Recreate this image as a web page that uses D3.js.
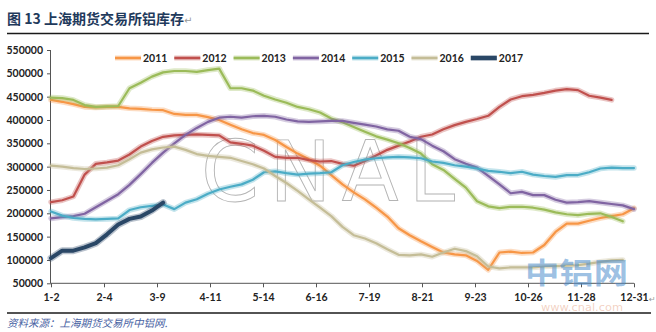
<!DOCTYPE html>
<html>
<head>
<meta charset="utf-8">
<script src="https://cdn.jsdelivr.net/npm/d3@7"></script>
<style>
  html, body { margin: 0; padding: 0; background: #fff; }
  svg { display: block; }
  .tick text { font-family: Lato, "Open Sans", sans-serif; font-weight: 700; font-size: 10.5px; fill: #222; }
  .tick line, .domain { stroke: #555; }
</style>
</head>
<body>
<svg id="chart" width="656" height="332"></svg>
<script>
// SHFE aluminium warehouse stocks (tonnes), weekly readings, one array per year
const years = ["2011", "2012", "2013", "2014", "2015", "2016", "2017"];
const dateLabels = ["1-2", "2-4", "3-9", "4-11", "5-14", "6-16", "7-19", "8-21", "9-23", "10-26", "11-28", "12-31"];
const yTicks = [50000, 100000, 150000, 200000, 250000, 300000, 350000, 400000, 450000, 500000, 550000];

const y2011 = [443,439,434,428,427,428,428,425,424,422,421,413,411,411,406,400,390,380,372,368,357,342,328,316,302,282,262,245,230,212,193,168,153,140,128,116,112,110,98,79,116,118,115,116,132,160,178,178,184,190,194,198,211];
const y2012 = [224,228,236,283,306,309,313,326,343,355,364,367,368,369,368,367,352,349,345,334,321,319,319,314,311,312,306,302,312,324,336,345,354,364,369,380,389,396,402,409,428,444,451,454,458,463,466,464,452,448,443];
const y2013 = [448,447,443,432,428,429,430,468,480,493,502,505,505,503,507,510,468,468,463,452,444,437,428,423,416,403,395,385,375,365,358,350,340,328,305,293,274,255,226,215,211,214,214,212,208,202,198,196,199,200,192,183];
const y2014 = [189,192,194,199,213,227,241,261,284,308,330,350,368,383,396,405,407,405,408,409,407,401,397,396,397,398,398,394,390,386,380,377,364,359,345,333,316,306,298,280,262,243,246,239,239,229,223,224,226,223,220,217,209];
const y2015 = [204,195,190,188,187,188,189,207,213,216,219,209,223,230,242,251,257,262,272,288,290,286,283,285,286,288,303,310,315,318,320,321,320,318,311,308,303,300,296,291,289,286,289,283,280,278,282,282,288,296,298,297,297];
const y2016 = [302,300,297,295,296,298,303,316,330,337,341,343,336,327,323,321,319,312,305,296,280,265,248,230,212,194,171,153,146,136,123,111,110,112,107,116,124,119,108,86,82,84,84,84,86,87,88,89,92,96,99,100];
const y2017 = [104,120,120,127,136,155,176,188,193,206,223];

const colors = ["#f79646", "#c0504d", "#9bbb59", "#8064a2", "#4bacc6", "#c4bd97", "#2a4766"];
const seriesValues = [y2011, y2012, y2013, y2014, y2015, y2016, y2017].map(a => a.map(v => v * 1000));

const svg = d3.select("#chart");

// week index 0..52 spread across the year axis
const x = d3.scaleLinear().domain([0, 52]).range([51, 634]);
const y = d3.scaleLinear().domain([50000, 550000]).range([283.3, 50]);

// Title and rules
svg.append("text")
  .attr("x", 7).attr("y", 24)
  .style("font-family", "'Noto Sans CJK SC', sans-serif")
  .style("font-weight", 700).style("font-size", "14px")
  .attr("fill", "#1f3a5c")
  .text("图 13 上海期货交易所铝库存")
  .append("tspan").attr("fill", "#999").style("font-weight", 400).style("font-size", "10px")
  .style("font-family", "'DejaVu Sans', sans-serif").text("↵");

svg.append("line").attr("x1", 7).attr("x2", 649).attr("y1", 33.5).attr("y2", 33.5)
  .attr("stroke", "#1a1a1a").attr("stroke-width", 1.3);
svg.append("line").attr("x1", 7).attr("x2", 651).attr("y1", 313).attr("y2", 313)
  .attr("stroke", "#1a1a1a").attr("stroke-width", 1.3);

svg.append("text")
  .attr("x", 7).attr("y", 327)
  .style("font-family", "'Noto Sans CJK SC', sans-serif")
  .style("font-style", "italic").style("font-size", "10.5px")
  .attr("fill", "#4862a3")
  .text("资料来源：上海期货交易所中铝网.");

// Outlined "CNAL" mark behind the plot
svg.append("text")
  .attr("x", 201).attr("y", 201)
  .attr("textLength", 254).attr("lengthAdjust", "spacing")
  .style("font-family", "'DejaVu Sans', sans-serif")
  .style("font-size", "83px")
  .attr("fill", "none").attr("stroke", "#b4b4b4").attr("stroke-width", 0.9)
  .text("CNAL");

// Axes
const yAxis = svg.append("g").attr("transform", "translate(51,0)")
  .call(d3.axisLeft(y).tickValues(yTicks).tickSize(4).tickPadding(4).tickFormat(d => String(d)));
yAxis.select(".domain").attr("d", `M-0.5,${y(550000)}V${y(50000)}`);

const tickIdx = dateLabels.map((_, i) => i * 52 / 11);
const xAxis = svg.append("g").attr("transform", `translate(0,${y(50000)})`)
  .call(d3.axisBottom(x).tickValues(tickIdx).tickSize(4).tickPadding(6).tickFormat((d, i) => dateLabels[i]));
xAxis.select(".domain").attr("d", `M${x(0)},0H${x(52)}`);

svg.append("text").attr("x", 649).attr("y", 302)
  .style("font-family", "'DejaVu Sans', sans-serif").style("font-size", "8px")
  .attr("fill", "#999").text("↵");

// Series lines: soft halo underneath, solid core on top
const line = d3.line().x((d, i) => x(i)).y(d => y(d));
const gLines = svg.append("g");
seriesValues.forEach((vals, k) => {
  const wide = k === 6;
  gLines.append("path").datum(vals)
    .attr("d", line).attr("fill", "none")
    .attr("stroke", colors[k]).attr("stroke-opacity", 0.33)
    .attr("stroke-width", wide ? 7 : 5.5)
    .attr("stroke-linejoin", "round").attr("stroke-linecap", "round");
  gLines.append("path").datum(vals)
    .attr("d", line).attr("fill", "none")
    .attr("stroke", colors[k])
    .attr("stroke-width", wide ? 4 : 2.2)
    .attr("stroke-linejoin", "round").attr("stroke-linecap", "round");
});

// Legend
const legend = svg.append("g").attr("transform", "translate(115,58)");
years.forEach((yr, k) => {
  const g = legend.append("g").attr("transform", `translate(${k * 59.3},0)`);
  g.append("line").attr("x1", 0).attr("x2", 26).attr("y1", 0).attr("y2", 0)
    .attr("stroke", colors[k]).attr("stroke-opacity", 0.35).attr("stroke-width", k === 6 ? 6 : 5);
  g.append("line").attr("x1", 0).attr("x2", 26).attr("y1", 0).attr("y2", 0)
    .attr("stroke", colors[k]).attr("stroke-width", k === 6 ? 4 : 2.5);
  g.append("text").attr("x", 28).attr("y", 3.8)
    .style("font-family", "Lato, sans-serif").style("font-weight", 700).style("font-size", "10.5px")
    .attr("fill", "#222").text(yr);
});

// Site marks in the lower right
svg.append("text")
  .attr("x", 525).attr("y", 284)
  .attr("textLength", 103).attr("lengthAdjust", "spacingAndGlyphs")
  .style("font-family", "'Noto Sans CJK SC', sans-serif").style("font-weight", 700).style("font-size", "29px")
  .attr("fill", "#4a8ccc").attr("fill-opacity", 0.55)
  .text("中铝网");
svg.append("text")
  .attr("x", 541).attr("y", 310.5)
  .attr("textLength", 82).attr("lengthAdjust", "spacingAndGlyphs")
  .style("font-family", "'DejaVu Sans', sans-serif").style("font-size", "11px")
  .attr("fill", "#e39a78").attr("fill-opacity", 0.45)
  .text("www.cnal.com");
</script>
</body>
</html>
